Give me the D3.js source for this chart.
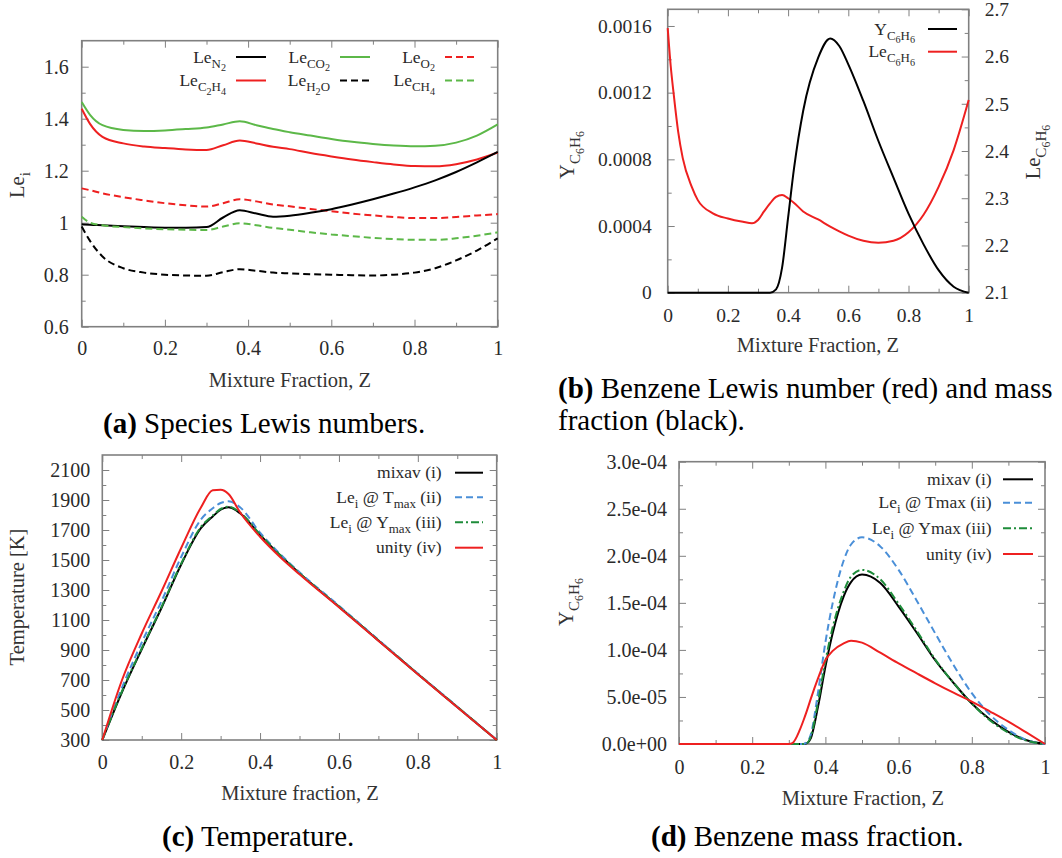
<!DOCTYPE html>
<html><head><meta charset="utf-8">
<script src="https://cdn.jsdelivr.net/npm/d3@7"></script>
<style>body{margin:0;background:#fff}svg text{font-family:"Liberation Serif","Times New Roman",serif}</style>
</head><body>
<svg id="c" width="1062" height="858"></svg>
<script>
// ---------------- Data ----------------
const xTicks = [0, 0.2, 0.4, 0.6, 0.8, 1];
const xTickLabels = ["0", "0.2", "0.4", "0.6", "0.8", "1"];
const xMinor = [0.1, 0.3, 0.5, 0.7, 0.9];

// (a) Species Lewis numbers
const zA = [0,0.02,0.05,0.1,0.15,0.2,0.25,0.3,0.34,0.38,0.42,0.46,0.5,0.55,0.6,0.65,0.7,0.75,0.8,0.85,0.9,0.95,1];
const leN2  = [0.994,0.992,0.99,0.986,0.983,0.981,0.981,0.983,1.02,1.048,1.035,1.023,1.027,1.038,1.052,1.07,1.09,1.112,1.136,1.163,1.195,1.232,1.272];
const leCO2 = [1.464,1.415,1.375,1.357,1.353,1.355,1.36,1.366,1.378,1.39,1.375,1.36,1.348,1.335,1.322,1.311,1.303,1.297,1.294,1.296,1.308,1.335,1.378];
const leO2  = [1.132,1.125,1.113,1.098,1.086,1.075,1.067,1.062,1.075,1.09,1.082,1.07,1.063,1.053,1.044,1.035,1.028,1.022,1.018,1.018,1.022,1.028,1.033];
const leC2H4= [1.438,1.38,1.33,1.305,1.293,1.287,1.282,1.28,1.298,1.316,1.305,1.292,1.283,1.268,1.255,1.243,1.233,1.224,1.218,1.217,1.225,1.243,1.27];
const leH2O = [0.985,0.93,0.87,0.825,0.808,0.8,0.797,0.796,0.81,0.821,0.815,0.808,0.805,0.802,0.8,0.798,0.797,0.8,0.808,0.825,0.855,0.893,0.94];
const leCH4 = [1.023,1.0,0.99,0.983,0.978,0.975,0.973,0.972,0.985,0.998,0.99,0.98,0.973,0.963,0.955,0.948,0.942,0.937,0.934,0.934,0.94,0.95,0.963];
const aYTicks = [0.6, 0.8, 1, 1.2, 1.4, 1.6];
const aYTickLabels = ["0.6", "0.8", "1", "1.2", "1.4", "1.6"];
const aYMinor = [0.7, 0.9, 1.1, 1.3, 1.5];

// (b) Benzene Lewis number and mass fraction
const zB = [0,0.01,0.02,0.035,0.05,0.08,0.1,0.15,0.2,0.25,0.28,0.3,0.32,0.34,0.36,0.38,0.4,0.42,0.45,0.5,0.54,0.57,0.6,0.65,0.7,0.75,0.8,0.85,0.9,0.95,1];
const yC6H6 = [0,0,0,0,0,0,0,0,0,0,0,0,0,0,0.00002,0.00015,0.00045,0.00075,0.00109,0.00141,0.001525,0.00148,0.00137,0.00115,0.00091,0.00069,0.000474,0.00029,0.000135,0.000036,0];
const leC6H6 = [2.66,2.58,2.52,2.44,2.385,2.324,2.296,2.268,2.257,2.25,2.247,2.254,2.272,2.289,2.303,2.307,2.3,2.29,2.272,2.255,2.24,2.23,2.221,2.21,2.206,2.21,2.228,2.265,2.324,2.402,2.508];
const bYTicks = [0, 0.0004, 0.0008, 0.0012, 0.0016];
const bYTickLabels = ["0", "0.0004", "0.0008", "0.0012", "0.0016"];
const bYMinor = [0.0002, 0.0006, 0.001, 0.0014];
const bRTicks = [2.1, 2.2, 2.3, 2.4, 2.5, 2.6, 2.7];
const bRTickLabels = ["2.1", "2.2", "2.3", "2.4", "2.5", "2.6", "2.7"];
const bRMinor = [2.15, 2.25, 2.35, 2.45, 2.55, 2.65];

// (c) Temperature
const zC = [0,0.05,0.1,0.15,0.2,0.25,0.28,0.3,0.32,0.35,0.4,0.45,0.5,0.6,0.7,0.8,0.9,1];
const tMixav = [300,620,905,1180,1470,1712,1790,1835,1851,1810,1667,1533,1411,1189,964,740,520,300];
const tTmax  = [300,650,950,1225,1520,1770,1845,1880,1891,1850,1682,1542,1418,1195,968,743,522,300];
const tYmax  = [300,625,910,1186,1476,1720,1797,1840,1855,1815,1670,1535,1412,1190,965,741,521,300];
const tUnity = [300,700,1010,1290,1580,1850,1965,1968,1940,1815,1655,1522,1405,1185,962,738,519,300];
const cYTicks = [300,500,700,900,1100,1300,1500,1700,1900,2100];
const cYTickLabels = ["300","500","700","900","1100","1300","1500","1700","1900","2100"];
const cYMinor = [400,600,800,1000,1200,1400,1600,1800,2000];

// (d) Benzene mass fraction
const zD = [0,0.1,0.2,0.3,0.31,0.33,0.34,0.35,0.36,0.38,0.4,0.42,0.45,0.47,0.5,0.55,0.6,0.65,0.7,0.75,0.8,0.85,0.9,0.95,1];
const yMixav = [0,0,0,0,0,0,0,0.01e-4,0.06e-4,0.40e-4,0.82e-4,1.18e-4,1.57e-4,1.72e-4,1.80e-4,1.71e-4,1.46e-4,1.18e-4,0.89e-4,0.65e-4,0.43e-4,0.26e-4,0.13e-4,0.04e-4,0];
const yTmax  = [0,0,0,0,0,0,0,0.02e-4,0.10e-4,0.55e-4,1.08e-4,1.50e-4,1.95e-4,2.12e-4,2.196e-4,2.10e-4,1.85e-4,1.52e-4,1.176e-4,0.84e-4,0.54e-4,0.31e-4,0.15e-4,0.04e-4,0];
const yYmax  = [0,0,0,0,0,0,0,0.01e-4,0.08e-4,0.45e-4,0.88e-4,1.24e-4,1.62e-4,1.78e-4,1.85e-4,1.75e-4,1.49e-4,1.20e-4,0.90e-4,0.65e-4,0.43e-4,0.25e-4,0.12e-4,0.035e-4,0];
const yUnity = [0,0,0,0,0.01e-4,0.15e-4,0.25e-4,0.36e-4,0.48e-4,0.70e-4,0.89e-4,0.99e-4,1.07e-4,1.098e-4,1.077e-4,0.97e-4,0.857e-4,0.75e-4,0.645e-4,0.545e-4,0.45e-4,0.345e-4,0.237e-4,0.12e-4,0];
const dYTicks = [0, 0.5e-4, 1.0e-4, 1.5e-4, 2.0e-4, 2.5e-4, 3.0e-4];
const dYTickLabels = ["0.0e+00","5.0e-05","1.0e-04","1.5e-04","2.0e-04","2.5e-04","3.0e-04"];
const dYMinor = [0.25e-4,0.75e-4,1.25e-4,1.75e-4,2.25e-4,2.75e-4];

// ---------------- Style ----------------
const RED = "#ee2020", GREEN_L = "#5cb848", BLUE = "#4a8fd8", GREEN_D = "#1e8c3a";
const DASH = "7,4", DASHDOT = "8,3,2,3";
const FRAME = "#808080", TXT = "#2a2a2a";

const svg = d3.select("#c");

function rich(sel, parts, size) {
  const off = [0, 0.3, 0.5], sz = [1, 0.74, 0.58];
  let prev = 0;
  parts.forEach(([t, l]) => {
    sel.append("tspan").attr("font-size", size * sz[l]).attr("dy", (off[l] - off[prev]) * size).text(t);
    prev = l;
  });
  return sel;
}

function styleAxis(g, fs) {
  g.select(".domain").remove();
  g.selectAll(".tick line").attr("stroke", FRAME).attr("stroke-width", 1);
  g.selectAll(".tick text").attr("fill", TXT).attr("font-size", fs)
    .attr("font-family", '"Liberation Serif","Times New Roman",serif');
  g.attr("font-family", null).attr("font-size", null);
}

function frame(x, y, o) {
  const [x0, x1] = x.range(), [yb, yt] = y.range();
  const g = svg.append("g");
  // bottom
  g.append("g").attr("transform", `translate(0,${yb})`)
    .call(d3.axisBottom(x).tickValues(xTicks).tickFormat((d, i) => xTickLabels[i]).tickSize(-7).tickPadding(o.padX))
    .call(s => styleAxis(s, o.fs));
  g.append("g").attr("transform", `translate(0,${yb})`)
    .call(d3.axisBottom(x).tickValues(xMinor).tickFormat("").tickSize(-4)).call(s => styleAxis(s, o.fs));
  // top
  g.append("g").attr("transform", `translate(0,${yt})`)
    .call(d3.axisTop(x).tickValues(xTicks).tickFormat("").tickSize(-7)).call(s => styleAxis(s, o.fs));
  g.append("g").attr("transform", `translate(0,${yt})`)
    .call(d3.axisTop(x).tickValues(xMinor).tickFormat("").tickSize(-4)).call(s => styleAxis(s, o.fs));
  // left
  g.append("g").attr("transform", `translate(${x0},0)`)
    .call(d3.axisLeft(y).tickValues(o.yt).tickFormat((d, i) => o.yl[i]).tickSize(-7).tickPadding(o.padY))
    .call(s => styleAxis(s, o.fs));
  g.append("g").attr("transform", `translate(${x0},0)`)
    .call(d3.axisLeft(y).tickValues(o.ym).tickFormat("").tickSize(-4)).call(s => styleAxis(s, o.fs));
  // right
  const yr = o.yR || y;
  g.append("g").attr("transform", `translate(${x1},0)`)
    .call(d3.axisRight(yr).tickValues(o.yR ? o.rt : o.yt).tickFormat(o.yR ? ((d, i) => o.rl[i]) : "").tickSize(-7).tickPadding(o.padR || 3))
    .call(s => styleAxis(s, o.fs));
  g.append("g").attr("transform", `translate(${x1},0)`)
    .call(d3.axisRight(yr).tickValues(o.yR ? o.rm : o.ym).tickFormat("").tickSize(-4)).call(s => styleAxis(s, o.fs));
  g.append("rect").attr("x", x0).attr("y", yt).attr("width", x1 - x0).attr("height", yb - yt)
    .attr("fill", "none").attr("stroke", FRAME).attr("stroke-width", 1.6);
}

function curve(x, y, zs, vs, color, dash) {
  const line = d3.line().x((d, i) => x(zs[i])).y(d => y(d)).curve(d3.curveMonotoneX);
  svg.append("path").attr("d", line(vs)).attr("fill", "none").attr("stroke", color)
    .attr("stroke-width", 2).attr("stroke-dasharray", dash || null).attr("stroke-linejoin", "round");
}

function legendLine(x1, x2, y, color, dash) {
  svg.append("line").attr("x1", x1).attr("x2", x2).attr("y1", y).attr("y2", y)
    .attr("stroke", color).attr("stroke-width", 2).attr("stroke-dasharray", dash || null);
}

function label(x, y, parts, size, anchor, rotate, fill) {
  const t = svg.append("text").attr("fill", fill || TXT).attr("font-size", size).attr("text-anchor", anchor || "middle");
  if (rotate) t.attr("transform", `translate(${x},${y}) rotate(-90)`);
  else t.attr("x", x).attr("y", y);
  return rich(t, parts, size);
}

function caption(x, y, bold, rest) {
  const t = svg.append("text").attr("x", x).attr("y", y).attr("font-size", 29).attr("fill", "#000");
  t.append("tspan").attr("font-weight", "bold").text(bold);
  t.append("tspan").text(rest);
}

// ---------------- Panel (a) ----------------
{
  const x = d3.scaleLinear().domain([0, 1]).range([81.7, 497.7]);
  const y = d3.scaleLinear().domain([0.6, 1.7]).range([326.7, 40.7]);
  frame(x, y, { yt: aYTicks, yl: aYTickLabels, ym: aYMinor, fs: 20, padX: 14, padY: 13 });
  curve(x, y, zA, leCO2, GREEN_L);
  curve(x, y, zA, leC2H4, RED);
  curve(x, y, zA, leO2, RED, DASH);
  curve(x, y, zA, leN2, "#000");
  curve(x, y, zA, leCH4, GREEN_L, DASH);
  curve(x, y, zA, leH2O, "#000", DASH);
  const cols = [236, 340, 445], rows = [57, 80.5];
  const items = [
    [[["Le",0],["N",1],["2",2]], "#000", null],
    [[["Le",0],["CO",1],["2",2]], GREEN_L, null],
    [[["Le",0],["O",1],["2",2]], RED, DASH],
    [[["Le",0],["C",1],["2",2],["H",1],["4",2]], RED, null],
    [[["Le",0],["H",1],["2",2],["O",1]], "#000", DASH],
    [[["Le",0],["CH",1],["4",2]], GREEN_L, DASH]
  ];
  items.forEach((it, i) => {
    const c = i % 3, r = Math.floor(i / 3);
    label(cols[c] - 10, rows[r] + 5.5, it[0], 17.5, "end");
    legendLine(cols[c], cols[c] + 30, rows[r], it[1], it[2]);
  });
  label(290, 387, [["Mixture Fraction, Z",0]], 20.5, "middle", false, "#333");
  label(24, 185, [["Le",0],["i",1]], 20.5, "middle", true, "#333");
  caption(103, 433, "(a)", " Species Lewis numbers.");
}

// ---------------- Panel (b) ----------------
{
  const x = d3.scaleLinear().domain([0, 1]).range([667.7, 968.7]);
  const y = d3.scaleLinear().domain([0, 0.0017]).range([292.7, 9.3]);
  const yR = d3.scaleLinear().domain([2.1, 2.7]).range([292.7, 9.3]);
  frame(x, y, { yt: bYTicks, yl: bYTickLabels, ym: bYMinor, yR: yR, rt: bRTicks, rl: bRTickLabels, rm: bRMinor, fs: 19.5, padX: 15, padY: 16, padR: 16 });
  curve(x, yR, zB, leC6H6, RED);
  curve(x, y, zB, yC6H6, "#000");
  label(915, 34.5, [["Y",0],["C",1],["6",2],["H",1],["6",2]], 17.5, "end");
  legendLine(928, 957, 29, "#000");
  label(915, 57, [["Le",0],["C",1],["6",2],["H",1],["6",2]], 17.5, "end");
  legendLine(928, 957, 51.7, RED);
  label(818, 352, [["Mixture Fraction, Z",0]], 20.5, "middle", false, "#333");
  label(574, 155, [["Y",0],["C",1],["6",2],["H",1],["6",2]], 20.5, "middle", true, "#333");
  label(1040, 152, [["Le",0],["C",1],["6",2],["H",1],["6",2]], 20.5, "middle", true, "#333");
  caption(558, 398, "(b)", " Benzene Lewis number (red) and mass");
  svg.append("text").attr("x", 558).attr("y", 430).attr("font-size", 29).attr("fill", "#000").text("fraction (black).");
}

// ---------------- Panel (c) ----------------
{
  const x = d3.scaleLinear().domain([0, 1]).range([102.3, 496.7]);
  const y = d3.scaleLinear().domain([300, 2200]).range([740, 455]);
  frame(x, y, { yt: cYTicks, yl: cYTickLabels, ym: cYMinor, fs: 20, padX: 15, padY: 12 });
  curve(x, y, zC, tMixav, "#000");
  curve(x, y, zC, tTmax, BLUE, DASH);
  curve(x, y, zC, tYmax, GREEN_D, DASHDOT);
  curve(x, y, zC, tUnity, RED);
  const rows = [472.7, 497.3, 522.3, 547.7];
  const items = [
    [[["mixav (i)",0]], "#000", null],
    [[["Le",0],["i",1],[" @ T",0],["max",1],[" (ii)",0]], BLUE, DASH],
    [[["Le",0],["i",1],[" @ Y",0],["max",1],[" (iii)",0]], GREEN_D, DASHDOT],
    [[["unity (iv)",0]], RED, null]
  ];
  items.forEach((it, i) => {
    label(441.7, rows[i] + 5.5, it[0], 17.5, "end");
    legendLine(455, 483, rows[i], it[1], it[2]);
  });
  label(300, 800, [["Mixture fraction, Z",0]], 20.5, "middle", false, "#333");
  label(24, 597, [["Temperature [K]",0]], 20.5, "middle", true, "#333");
  caption(162, 846, "(c)", " Temperature.");
}

// ---------------- Panel (d) ----------------
{
  const x = d3.scaleLinear().domain([0, 1]).range([679, 1045]);
  const y = d3.scaleLinear().domain([0, 3e-4]).range([744, 461.7]);
  frame(x, y, { yt: dYTicks, yl: dYTickLabels, ym: dYMinor, fs: 20, padX: 15.5, padY: 12 });
  curve(x, y, zD, yMixav, "#000");
  curve(x, y, zD, yTmax, BLUE, DASH);
  curve(x, y, zD, yYmax, GREEN_D, DASHDOT);
  curve(x, y, zD, yUnity, RED);
  const rows = [479.3, 502.7, 528.3, 554];
  const items = [
    [[["mixav (i)",0]], "#000", null],
    [[["Le",0],["i",1],[" @ Tmax (ii)",0]], BLUE, DASH],
    [[["Le",0],["i",1],[" @ Ymax (iii)",0]], GREEN_D, DASHDOT],
    [[["unity (iv)",0]], RED, null]
  ];
  items.forEach((it, i) => {
    label(991.7, rows[i] + 5.5, it[0], 17.5, "end");
    legendLine(1003, 1033, rows[i], it[1], it[2]);
  });
  label(863, 805, [["Mixture Fraction, Z",0]], 20.5, "middle", false, "#333");
  label(573, 602, [["Y",0],["C",1],["6",2],["H",1],["6",2]], 20.5, "middle", true, "#333");
  caption(651, 846, "(d)", " Benzene mass fraction.");
}
</script>
</body></html>
